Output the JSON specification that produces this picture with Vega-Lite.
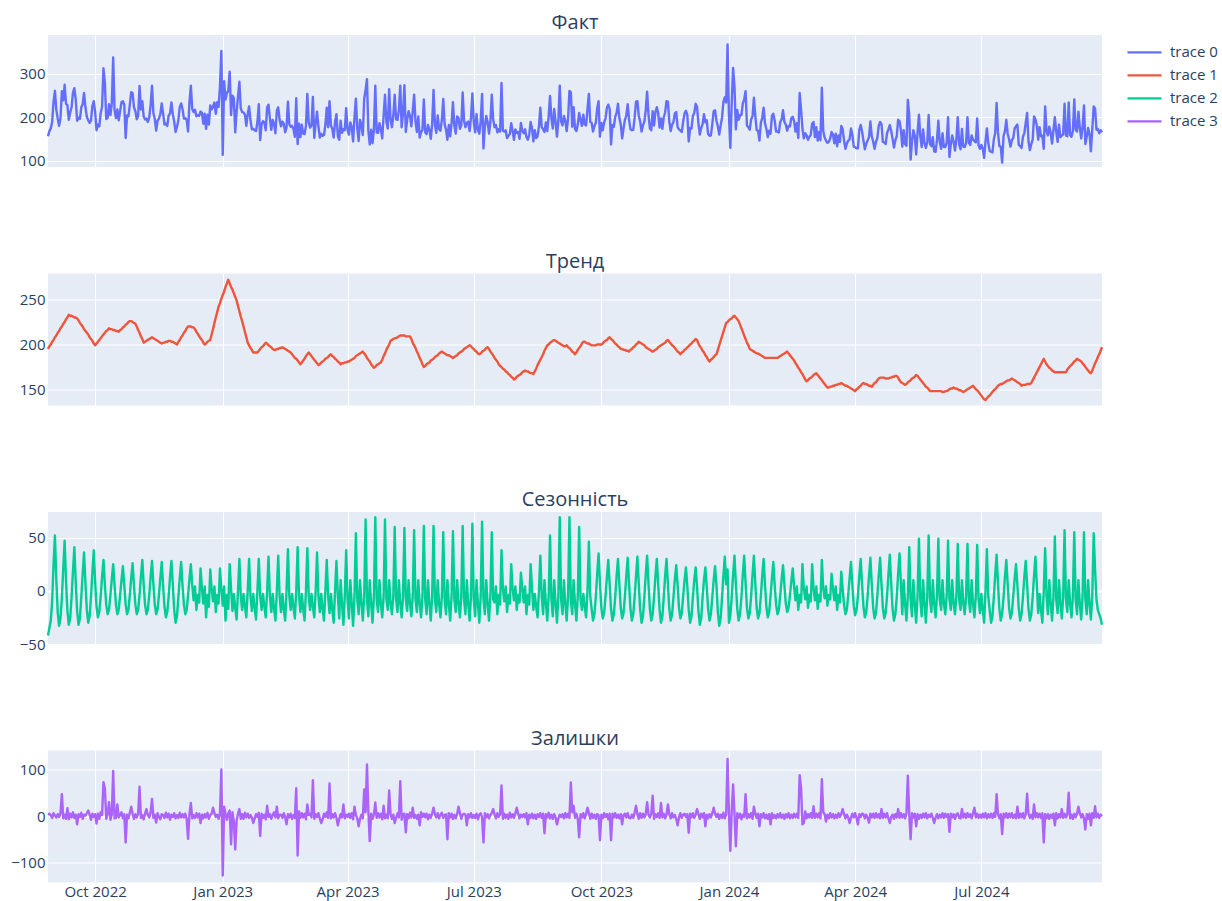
{
  "$schema": "https://vega.github.io/schema/vega-lite/v6.json",
  "background": "white",
  "padding": {"left": 10, "top": 13, "right": 4, "bottom": 2},
  "bounds": "flush",
  "config": {
    "font": "Open Sans",
    "view": {"fill": "#E5ECF6", "stroke": null},
    "axis": {
      "grid": true,
      "gridColor": "white",
      "gridWidth": 1.2,
      "domain": false,
      "ticks": false,
      "tickSize": 0,
      "labelColor": "#2a3f5f",
      "labelFontSize": 15,
      "labelFont": "Open Sans",
      "title": null
    },
    "title": {"fontSize": 20, "fontWeight": "normal", "color": "#2a3f5f", "font": "Open Sans", "offset": 2, "anchor": "middle"},
    "line": {"strokeWidth": 2.4, "strokeJoin": "round"}
  },
  "datasets": {
    "dec": [
{"d":"2022-08-28","t":195,"s":-42,"r":3,"f":156},
{"d":"2022-08-29","t":198,"s":-35,"r":5,"f":168},
{"d":"2022-08-30","t":200,"s":-28,"r":2,"f":174},
{"d":"2022-08-31","t":203,"s":-10,"r":-4,"f":189},
{"d":"2022-09-01","t":205,"s":25,"r":6,"f":236},
{"d":"2022-09-02","t":208,"s":52,"r":1,"f":261},
{"d":"2022-09-03","t":210,"s":10,"r":-3,"f":217},
{"d":"2022-09-04","t":213,"s":-20,"r":4,"f":197},
{"d":"2022-09-05","t":215,"s":-33,"r":-2,"f":180},
{"d":"2022-09-06","t":218,"s":-26,"r":6,"f":198},
{"d":"2022-09-07","t":220,"s":-7,"r":47,"f":260},
{"d":"2022-09-08","t":223,"s":21,"r":-5,"f":239},
{"d":"2022-09-09","t":225,"s":47,"r":3,"f":275},
{"d":"2022-09-10","t":228,"s":9,"r":-6,"f":231},
{"d":"2022-09-11","t":230,"s":-19,"r":17,"f":228},
{"d":"2022-09-12","t":233,"s":-32,"r":-7,"f":194},
{"d":"2022-09-13","t":232,"s":-26,"r":5,"f":211},
{"d":"2022-09-14","t":232,"s":-6,"r":-3,"f":223},
{"d":"2022-09-15","t":231,"s":18,"r":8,"f":257},
{"d":"2022-09-16","t":230,"s":41,"r":-4,"f":267},
{"d":"2022-09-17","t":230,"s":8,"r":3,"f":241},
{"d":"2022-09-18","t":229,"s":-19,"r":-18,"f":192},
{"d":"2022-09-19","t":227,"s":-32,"r":4,"f":199},
{"d":"2022-09-20","t":224,"s":-26,"r":-2,"f":196},
{"d":"2022-09-21","t":222,"s":-6,"r":7,"f":223},
{"d":"2022-09-22","t":220,"s":16,"r":-6,"f":230},
{"d":"2022-09-23","t":217,"s":36,"r":3,"f":256},
{"d":"2022-09-24","t":215,"s":7,"r":1,"f":223},
{"d":"2022-09-25","t":213,"s":-18,"r":6,"f":201},
{"d":"2022-09-26","t":211,"s":-30,"r":12,"f":193},
{"d":"2022-09-27","t":208,"s":-24,"r":3,"f":187},
{"d":"2022-09-28","t":206,"s":-6,"r":-8,"f":192},
{"d":"2022-09-29","t":204,"s":17,"r":5,"f":226},
{"d":"2022-09-30","t":201,"s":38,"r":-2,"f":237},
{"d":"2022-10-01","t":199,"s":8,"r":4,"f":211},
{"d":"2022-10-02","t":201,"s":-15,"r":-16,"f":170},
{"d":"2022-10-03","t":203,"s":-25,"r":5,"f":183},
{"d":"2022-10-04","t":205,"s":-20,"r":-6,"f":179},
{"d":"2022-10-05","t":207,"s":-5,"r":8,"f":210},
{"d":"2022-10-06","t":209,"s":13,"r":2,"f":224},
{"d":"2022-10-07","t":211,"s":29,"r":73,"f":313},
{"d":"2022-10-08","t":213,"s":6,"r":60,"f":279},
{"d":"2022-10-09","t":215,"s":-13,"r":-6,"f":196},
{"d":"2022-10-10","t":216,"s":-22,"r":4,"f":198},
{"d":"2022-10-11","t":218,"s":-18,"r":30,"f":230},
{"d":"2022-10-12","t":217,"s":-4,"r":-8,"f":205},
{"d":"2022-10-13","t":217,"s":11,"r":3,"f":231},
{"d":"2022-10-14","t":216,"s":25,"r":97,"f":338},
{"d":"2022-10-15","t":216,"s":5,"r":-5,"f":216},
{"d":"2022-10-16","t":215,"s":-13,"r":-4,"f":198},
{"d":"2022-10-17","t":215,"s":-22,"r":25,"f":218},
{"d":"2022-10-18","t":214,"s":-18,"r":-3,"f":193},
{"d":"2022-10-19","t":216,"s":-4,"r":2,"f":214},
{"d":"2022-10-20","t":217,"s":10,"r":8,"f":235},
{"d":"2022-10-21","t":219,"s":23,"r":-5,"f":237},
{"d":"2022-10-22","t":220,"s":5,"r":4,"f":229},
{"d":"2022-10-23","t":222,"s":-13,"r":-57,"f":152},
{"d":"2022-10-24","t":223,"s":-22,"r":3,"f":204},
{"d":"2022-10-25","t":225,"s":-18,"r":-5,"f":202},
{"d":"2022-10-26","t":226,"s":-4,"r":7,"f":229},
{"d":"2022-10-27","t":226,"s":12,"r":20,"f":258},
{"d":"2022-10-28","t":225,"s":26,"r":5,"f":256},
{"d":"2022-10-29","t":224,"s":5,"r":-6,"f":223},
{"d":"2022-10-30","t":223,"s":-13,"r":4,"f":214},
{"d":"2022-10-31","t":220,"s":-22,"r":-3,"f":195},
{"d":"2022-11-01","t":216,"s":-18,"r":5,"f":203},
{"d":"2022-11-02","t":213,"s":-4,"r":63,"f":272},
{"d":"2022-11-03","t":209,"s":13,"r":-4,"f":218},
{"d":"2022-11-04","t":206,"s":29,"r":2,"f":237},
{"d":"2022-11-05","t":202,"s":6,"r":-7,"f":201},
{"d":"2022-11-06","t":203,"s":-13,"r":5,"f":195},
{"d":"2022-11-07","t":204,"s":-22,"r":15,"f":197},
{"d":"2022-11-08","t":205,"s":-18,"r":2,"f":189},
{"d":"2022-11-09","t":206,"s":-4,"r":-3,"f":199},
{"d":"2022-11-10","t":207,"s":13,"r":8,"f":228},
{"d":"2022-11-11","t":208,"s":28,"r":37,"f":273},
{"d":"2022-11-12","t":207,"s":6,"r":-4,"f":209},
{"d":"2022-11-13","t":206,"s":-13,"r":3,"f":196},
{"d":"2022-11-14","t":205,"s":-22,"r":-14,"f":169},
{"d":"2022-11-15","t":204,"s":-18,"r":6,"f":192},
{"d":"2022-11-16","t":203,"s":-4,"r":-2,"f":197},
{"d":"2022-11-17","t":202,"s":12,"r":-7,"f":207},
{"d":"2022-11-18","t":201,"s":27,"r":4,"f":232},
{"d":"2022-11-19","t":202,"s":5,"r":2,"f":209},
{"d":"2022-11-20","t":202,"s":-15,"r":-4,"f":183},
{"d":"2022-11-21","t":203,"s":-25,"r":7,"f":185},
{"d":"2022-11-22","t":203,"s":-20,"r":-3,"f":180},
{"d":"2022-11-23","t":204,"s":-5,"r":5,"f":204},
{"d":"2022-11-24","t":204,"s":13,"r":-8,"f":209},
{"d":"2022-11-25","t":203,"s":28,"r":3,"f":234},
{"d":"2022-11-26","t":203,"s":6,"r":-2,"f":207},
{"d":"2022-11-27","t":202,"s":-18,"r":6,"f":190},
{"d":"2022-11-28","t":201,"s":-30,"r":-5,"f":166},
{"d":"2022-11-29","t":200,"s":-24,"r":2,"f":178},
{"d":"2022-11-30","t":203,"s":-6,"r":-4,"f":193},
{"d":"2022-12-01","t":205,"s":12,"r":7,"f":224},
{"d":"2022-12-02","t":208,"s":27,"r":-3,"f":232},
{"d":"2022-12-03","t":210,"s":5,"r":4,"f":219},
{"d":"2022-12-04","t":213,"s":-13,"r":-3,"f":197},
{"d":"2022-12-05","t":215,"s":-22,"r":5,"f":198},
{"d":"2022-12-06","t":218,"s":-18,"r":-6,"f":194},
{"d":"2022-12-07","t":220,"s":-4,"r":-49,"f":167},
{"d":"2022-12-08","t":220,"s":11,"r":4,"f":235},
{"d":"2022-12-09","t":220,"s":25,"r":28,"f":273},
{"d":"2022-12-10","t":219,"s":5,"r":-5,"f":219},
{"d":"2022-12-11","t":219,"s":-9,"r":2,"f":212},
{"d":"2022-12-12","t":217,"s":4,"r":-4,"f":217},
{"d":"2022-12-13","t":214,"s":-18,"r":6,"f":202},
{"d":"2022-12-14","t":212,"s":-4,"r":-3,"f":205},
{"d":"2022-12-15","t":209,"s":-11,"r":5,"f":203},
{"d":"2022-12-16","t":207,"s":21,"r":-15,"f":213},
{"d":"2022-12-17","t":205,"s":2,"r":3,"f":210},
{"d":"2022-12-18","t":202,"s":-12,"r":-5,"f":185},
{"d":"2022-12-19","t":200,"s":4,"r":4,"f":208},
{"d":"2022-12-20","t":201,"s":-25,"r":-3,"f":173},
{"d":"2022-12-21","t":203,"s":-4,"r":7,"f":206},
{"d":"2022-12-22","t":204,"s":-15,"r":-6,"f":183},
{"d":"2022-12-23","t":205,"s":20,"r":2,"f":227},
{"d":"2022-12-24","t":211,"s":2,"r":5,"f":218},
{"d":"2022-12-25","t":217,"s":-10,"r":18,"f":225},
{"d":"2022-12-26","t":224,"s":4,"r":6,"f":234},
{"d":"2022-12-27","t":230,"s":-20,"r":-2,"f":208},
{"d":"2022-12-28","t":236,"s":-4,"r":3,"f":235},
{"d":"2022-12-29","t":242,"s":-12,"r":-6,"f":224},
{"d":"2022-12-30","t":246,"s":21,"r":4,"f":271},
{"d":"2022-12-31","t":251,"s":2,"r":100,"f":353},
{"d":"2023-01-01","t":255,"s":-14,"r":-128,"f":113},
{"d":"2023-01-02","t":259,"s":4,"r":20,"f":283},
{"d":"2023-01-03","t":264,"s":-28,"r":5,"f":241},
{"d":"2023-01-04","t":268,"s":-4,"r":-8,"f":256},
{"d":"2023-01-05","t":272,"s":-17,"r":6,"f":261},
{"d":"2023-01-06","t":268,"s":25,"r":12,"f":305},
{"d":"2023-01-07","t":264,"s":2,"r":-61,"f":205},
{"d":"2023-01-08","t":261,"s":-19,"r":8,"f":250},
{"d":"2023-01-09","t":257,"s":-3,"r":-10,"f":244},
{"d":"2023-01-10","t":253,"s":-16,"r":-72,"f":165},
{"d":"2023-01-11","t":249,"s":-27,"r":-10,"f":212},
{"d":"2023-01-12","t":243,"s":0,"r":5,"f":248},
{"d":"2023-01-13","t":237,"s":30,"r":15,"f":282},
{"d":"2023-01-14","t":231,"s":-5,"r":-6,"f":220},
{"d":"2023-01-15","t":226,"s":-18,"r":4,"f":212},
{"d":"2023-01-16","t":220,"s":-3,"r":-6,"f":211},
{"d":"2023-01-17","t":214,"s":-15,"r":7,"f":206},
{"d":"2023-01-18","t":208,"s":-25,"r":-3,"f":180},
{"d":"2023-01-19","t":202,"s":0,"r":5,"f":207},
{"d":"2023-01-20","t":199,"s":30,"r":-4,"f":225},
{"d":"2023-01-21","t":196,"s":-5,"r":2,"f":193},
{"d":"2023-01-22","t":194,"s":-19,"r":-3,"f":172},
{"d":"2023-01-23","t":191,"s":-3,"r":-15,"f":173},
{"d":"2023-01-24","t":191,"s":-16,"r":-5,"f":170},
{"d":"2023-01-25","t":191,"s":-27,"r":4,"f":168},
{"d":"2023-01-26","t":191,"s":0,"r":-2,"f":189},
{"d":"2023-01-27","t":193,"s":30,"r":7,"f":230},
{"d":"2023-01-28","t":195,"s":-5,"r":-43,"f":147},
{"d":"2023-01-29","t":197,"s":-18,"r":5,"f":184},
{"d":"2023-01-30","t":198,"s":-3,"r":-4,"f":191},
{"d":"2023-01-31","t":200,"s":-15,"r":3,"f":188},
{"d":"2023-02-01","t":202,"s":-25,"r":-7,"f":170},
{"d":"2023-02-02","t":201,"s":0,"r":22,"f":223},
{"d":"2023-02-03","t":199,"s":32,"r":-2,"f":229},
{"d":"2023-02-04","t":198,"s":-5,"r":4,"f":197},
{"d":"2023-02-05","t":197,"s":-20,"r":-6,"f":171},
{"d":"2023-02-06","t":195,"s":-3,"r":2,"f":194},
{"d":"2023-02-07","t":194,"s":-17,"r":8,"f":185},
{"d":"2023-02-08","t":194,"s":-28,"r":-3,"f":163},
{"d":"2023-02-09","t":195,"s":0,"r":20,"f":215},
{"d":"2023-02-10","t":195,"s":33,"r":-5,"f":223},
{"d":"2023-02-11","t":196,"s":-5,"r":3,"f":194},
{"d":"2023-02-12","t":196,"s":-20,"r":3,"f":179},
{"d":"2023-02-13","t":197,"s":-3,"r":-4,"f":190},
{"d":"2023-02-14","t":196,"s":-17,"r":6,"f":185},
{"d":"2023-02-15","t":195,"s":-28,"r":-2,"f":165},
{"d":"2023-02-16","t":194,"s":0,"r":-18,"f":176},
{"d":"2023-02-17","t":193,"s":39,"r":4,"f":236},
{"d":"2023-02-18","t":192,"s":-5,"r":-3,"f":184},
{"d":"2023-02-19","t":191,"s":-18,"r":5,"f":178},
{"d":"2023-02-20","t":189,"s":-3,"r":-6,"f":180},
{"d":"2023-02-21","t":187,"s":-16,"r":2,"f":173},
{"d":"2023-02-22","t":185,"s":-26,"r":-4,"f":155},
{"d":"2023-02-23","t":184,"s":0,"r":60,"f":244},
{"d":"2023-02-24","t":182,"s":41,"r":-85,"f":138},
{"d":"2023-02-25","t":180,"s":-5,"r":10,"f":185},
{"d":"2023-02-26","t":178,"s":-20,"r":-4,"f":154},
{"d":"2023-02-27","t":180,"s":-3,"r":6,"f":183},
{"d":"2023-02-28","t":182,"s":-17,"r":-3,"f":162},
{"d":"2023-03-01","t":184,"s":-28,"r":5,"f":161},
{"d":"2023-03-02","t":187,"s":0,"r":-7,"f":180},
{"d":"2023-03-03","t":189,"s":40,"r":25,"f":254},
{"d":"2023-03-04","t":191,"s":-5,"r":2,"f":188},
{"d":"2023-03-05","t":189,"s":-18,"r":5,"f":176},
{"d":"2023-03-06","t":187,"s":-3,"r":-3,"f":181},
{"d":"2023-03-07","t":185,"s":-15,"r":77,"f":247},
{"d":"2023-03-08","t":183,"s":-25,"r":-6,"f":152},
{"d":"2023-03-09","t":181,"s":0,"r":4,"f":185},
{"d":"2023-03-10","t":179,"s":36,"r":-2,"f":213},
{"d":"2023-03-11","t":177,"s":-5,"r":6,"f":178},
{"d":"2023-03-12","t":178,"s":-20,"r":-5,"f":153},
{"d":"2023-03-13","t":180,"s":-3,"r":-15,"f":162},
{"d":"2023-03-14","t":181,"s":-17,"r":-7,"f":157},
{"d":"2023-03-15","t":182,"s":-28,"r":5,"f":159},
{"d":"2023-03-16","t":184,"s":0,"r":-2,"f":182},
{"d":"2023-03-17","t":185,"s":29,"r":8,"f":222},
{"d":"2023-03-18","t":186,"s":-5,"r":-4,"f":177},
{"d":"2023-03-19","t":188,"s":-21,"r":70,"f":237},
{"d":"2023-03-20","t":189,"s":-3,"r":-5,"f":181},
{"d":"2023-03-21","t":187,"s":-18,"r":4,"f":173},
{"d":"2023-03-22","t":186,"s":-30,"r":-3,"f":153},
{"d":"2023-03-23","t":184,"s":0,"r":6,"f":190},
{"d":"2023-03-24","t":183,"s":28,"r":-4,"f":207},
{"d":"2023-03-25","t":181,"s":-5,"r":-20,"f":156},
{"d":"2023-03-26","t":180,"s":-26,"r":-6,"f":148},
{"d":"2023-03-27","t":178,"s":10,"r":4,"f":192},
{"d":"2023-03-28","t":179,"s":-12,"r":-3,"f":164},
{"d":"2023-03-29","t":179,"s":-32,"r":25,"f":172},
{"d":"2023-03-30","t":180,"s":-5,"r":-5,"f":170},
{"d":"2023-03-31","t":180,"s":38,"r":3,"f":221},
{"d":"2023-04-01","t":181,"s":-8,"r":-2,"f":171},
{"d":"2023-04-02","t":181,"s":-26,"r":5,"f":160},
{"d":"2023-04-03","t":182,"s":10,"r":-4,"f":188},
{"d":"2023-04-04","t":183,"s":-12,"r":6,"f":177},
{"d":"2023-04-05","t":184,"s":-33,"r":-7,"f":144},
{"d":"2023-04-06","t":185,"s":-5,"r":20,"f":200},
{"d":"2023-04-07","t":187,"s":54,"r":2,"f":243},
{"d":"2023-04-08","t":188,"s":-8,"r":-5,"f":175},
{"d":"2023-04-09","t":189,"s":-22,"r":-22,"f":145},
{"d":"2023-04-10","t":190,"s":10,"r":-6,"f":194},
{"d":"2023-04-11","t":191,"s":-12,"r":3,"f":182},
{"d":"2023-04-12","t":192,"s":-28,"r":-5,"f":159},
{"d":"2023-04-13","t":190,"s":-5,"r":57,"f":242},
{"d":"2023-04-14","t":188,"s":67,"r":8,"f":263},
{"d":"2023-04-15","t":185,"s":-8,"r":111,"f":288},
{"d":"2023-04-16","t":183,"s":-24,"r":10,"f":169},
{"d":"2023-04-17","t":181,"s":10,"r":-54,"f":137},
{"d":"2023-04-18","t":178,"s":-12,"r":5,"f":171},
{"d":"2023-04-19","t":176,"s":-30,"r":-6,"f":140},
{"d":"2023-04-20","t":174,"s":-5,"r":3,"f":172},
{"d":"2023-04-21","t":175,"s":69,"r":29,"f":273},
{"d":"2023-04-22","t":177,"s":-8,"r":-4,"f":165},
{"d":"2023-04-23","t":178,"s":-20,"r":6,"f":164},
{"d":"2023-04-24","t":179,"s":10,"r":-3,"f":186},
{"d":"2023-04-25","t":180,"s":-12,"r":5,"f":173},
{"d":"2023-04-26","t":183,"s":-25,"r":-7,"f":151},
{"d":"2023-04-27","t":187,"s":-5,"r":22,"f":204},
{"d":"2023-04-28","t":190,"s":67,"r":-5,"f":252},
{"d":"2023-04-29","t":194,"s":-8,"r":3,"f":189},
{"d":"2023-04-30","t":197,"s":-18,"r":-5,"f":174},
{"d":"2023-05-01","t":200,"s":10,"r":55,"f":265},
{"d":"2023-05-02","t":204,"s":-12,"r":4,"f":196},
{"d":"2023-05-03","t":205,"s":-22,"r":-6,"f":177},
{"d":"2023-05-04","t":206,"s":-5,"r":3,"f":204},
{"d":"2023-05-05","t":207,"s":60,"r":-15,"f":252},
{"d":"2023-05-06","t":207,"s":-8,"r":-4,"f":195},
{"d":"2023-05-07","t":208,"s":-20,"r":6,"f":194},
{"d":"2023-05-08","t":209,"s":10,"r":-3,"f":216},
{"d":"2023-05-09","t":210,"s":-12,"r":75,"f":273},
{"d":"2023-05-10","t":210,"s":-25,"r":-8,"f":177},
{"d":"2023-05-11","t":210,"s":-5,"r":4,"f":209},
{"d":"2023-05-12","t":210,"s":59,"r":5,"f":274},
{"d":"2023-05-13","t":209,"s":-8,"r":-35,"f":166},
{"d":"2023-05-14","t":209,"s":-19,"r":4,"f":194},
{"d":"2023-05-15","t":209,"s":10,"r":-5,"f":214},
{"d":"2023-05-16","t":209,"s":-12,"r":7,"f":204},
{"d":"2023-05-17","t":206,"s":-24,"r":-3,"f":179},
{"d":"2023-05-18","t":202,"s":-5,"r":18,"f":215},
{"d":"2023-05-19","t":199,"s":57,"r":-4,"f":252},
{"d":"2023-05-20","t":196,"s":-8,"r":2,"f":190},
{"d":"2023-05-21","t":192,"s":-20,"r":-6,"f":166},
{"d":"2023-05-22","t":189,"s":10,"r":3,"f":202},
{"d":"2023-05-23","t":185,"s":-12,"r":-20,"f":153},
{"d":"2023-05-24","t":182,"s":-25,"r":8,"f":165},
{"d":"2023-05-25","t":178,"s":-5,"r":-2,"f":171},
{"d":"2023-05-26","t":175,"s":61,"r":5,"f":241},
{"d":"2023-05-27","t":176,"s":-8,"r":-3,"f":165},
{"d":"2023-05-28","t":178,"s":-22,"r":5,"f":161},
{"d":"2023-05-29","t":179,"s":10,"r":-7,"f":182},
{"d":"2023-05-30","t":180,"s":-12,"r":3,"f":171},
{"d":"2023-05-31","t":182,"s":-28,"r":-4,"f":150},
{"d":"2023-06-01","t":183,"s":-5,"r":6,"f":184},
{"d":"2023-06-02","t":184,"s":61,"r":18,"f":263},
{"d":"2023-06-03","t":186,"s":-8,"r":4,"f":182},
{"d":"2023-06-04","t":187,"s":-20,"r":-3,"f":164},
{"d":"2023-06-05","t":188,"s":10,"r":6,"f":204},
{"d":"2023-06-06","t":190,"s":-12,"r":-5,"f":173},
{"d":"2023-06-07","t":191,"s":-25,"r":3,"f":169},
{"d":"2023-06-08","t":192,"s":-5,"r":7,"f":194},
{"d":"2023-06-09","t":191,"s":55,"r":-4,"f":242},
{"d":"2023-06-10","t":190,"s":-8,"r":2,"f":184},
{"d":"2023-06-11","t":189,"s":-22,"r":4,"f":171},
{"d":"2023-06-12","t":188,"s":10,"r":-50,"f":148},
{"d":"2023-06-13","t":188,"s":-12,"r":6,"f":182},
{"d":"2023-06-14","t":187,"s":-28,"r":-3,"f":156},
{"d":"2023-06-15","t":186,"s":-5,"r":5,"f":186},
{"d":"2023-06-16","t":185,"s":56,"r":-6,"f":235},
{"d":"2023-06-17","t":186,"s":-8,"r":3,"f":181},
{"d":"2023-06-18","t":187,"s":-20,"r":-5,"f":162},
{"d":"2023-06-19","t":188,"s":10,"r":4,"f":202},
{"d":"2023-06-20","t":190,"s":-12,"r":20,"f":198},
{"d":"2023-06-21","t":191,"s":-25,"r":7,"f":173},
{"d":"2023-06-22","t":192,"s":-5,"r":-6,"f":181},
{"d":"2023-06-23","t":193,"s":61,"r":3,"f":257},
{"d":"2023-06-24","t":195,"s":-8,"r":5,"f":192},
{"d":"2023-06-25","t":196,"s":-22,"r":3,"f":177},
{"d":"2023-06-26","t":197,"s":10,"r":-20,"f":187},
{"d":"2023-06-27","t":198,"s":-12,"r":4,"f":190},
{"d":"2023-06-28","t":199,"s":-28,"r":-3,"f":168},
{"d":"2023-06-29","t":198,"s":-5,"r":6,"f":199},
{"d":"2023-06-30","t":196,"s":63,"r":-4,"f":255},
{"d":"2023-07-01","t":195,"s":-8,"r":2,"f":189},
{"d":"2023-07-02","t":193,"s":-24,"r":-4,"f":165},
{"d":"2023-07-03","t":192,"s":10,"r":5,"f":207},
{"d":"2023-07-04","t":190,"s":-12,"r":-7,"f":171},
{"d":"2023-07-05","t":189,"s":-30,"r":3,"f":162},
{"d":"2023-07-06","t":190,"s":-5,"r":6,"f":191},
{"d":"2023-07-07","t":192,"s":65,"r":-3,"f":254},
{"d":"2023-07-08","t":193,"s":-8,"r":-57,"f":128},
{"d":"2023-07-09","t":194,"s":-22,"r":6,"f":178},
{"d":"2023-07-10","t":196,"s":10,"r":-3,"f":203},
{"d":"2023-07-11","t":197,"s":-12,"r":4,"f":189},
{"d":"2023-07-12","t":195,"s":-28,"r":-5,"f":162},
{"d":"2023-07-13","t":192,"s":-5,"r":2,"f":189},
{"d":"2023-07-14","t":190,"s":55,"r":7,"f":252},
{"d":"2023-07-15","t":188,"s":-8,"r":15,"f":195},
{"d":"2023-07-16","t":185,"s":-11,"r":3,"f":177},
{"d":"2023-07-17","t":183,"s":4,"r":-5,"f":182},
{"d":"2023-07-18","t":181,"s":-22,"r":6,"f":165},
{"d":"2023-07-19","t":178,"s":-4,"r":-2,"f":172},
{"d":"2023-07-20","t":176,"s":-13,"r":4,"f":167},
{"d":"2023-07-21","t":175,"s":38,"r":66,"f":279},
{"d":"2023-07-22","t":173,"s":2,"r":-6,"f":169},
{"d":"2023-07-23","t":172,"s":-10,"r":5,"f":167},
{"d":"2023-07-24","t":170,"s":4,"r":-4,"f":170},
{"d":"2023-07-25","t":169,"s":-20,"r":3,"f":152},
{"d":"2023-07-26","t":167,"s":-4,"r":-6,"f":157},
{"d":"2023-07-27","t":166,"s":-12,"r":7,"f":161},
{"d":"2023-07-28","t":164,"s":25,"r":-3,"f":186},
{"d":"2023-07-29","t":163,"s":2,"r":4,"f":169},
{"d":"2023-07-30","t":161,"s":-9,"r":-4,"f":148},
{"d":"2023-07-31","t":162,"s":4,"r":6,"f":172},
{"d":"2023-08-01","t":164,"s":-18,"r":18,"f":164},
{"d":"2023-08-02","t":165,"s":-4,"r":5,"f":166},
{"d":"2023-08-03","t":166,"s":-11,"r":-5,"f":150},
{"d":"2023-08-04","t":167,"s":17,"r":3,"f":187},
{"d":"2023-08-05","t":169,"s":2,"r":-2,"f":169},
{"d":"2023-08-06","t":170,"s":-11,"r":4,"f":163},
{"d":"2023-08-07","t":171,"s":4,"r":-3,"f":172},
{"d":"2023-08-08","t":170,"s":-22,"r":6,"f":154},
{"d":"2023-08-09","t":170,"s":-4,"r":-18,"f":148},
{"d":"2023-08-10","t":169,"s":-13,"r":3,"f":159},
{"d":"2023-08-11","t":168,"s":25,"r":-4,"f":189},
{"d":"2023-08-12","t":168,"s":2,"r":5,"f":175},
{"d":"2023-08-13","t":167,"s":-18,"r":-5,"f":144},
{"d":"2023-08-14","t":170,"s":-3,"r":3,"f":170},
{"d":"2023-08-15","t":173,"s":-15,"r":-6,"f":152},
{"d":"2023-08-16","t":177,"s":-25,"r":4,"f":156},
{"d":"2023-08-17","t":180,"s":0,"r":-2,"f":178},
{"d":"2023-08-18","t":183,"s":33,"r":6,"f":222},
{"d":"2023-08-19","t":186,"s":-5,"r":-4,"f":177},
{"d":"2023-08-20","t":189,"s":-22,"r":5,"f":172},
{"d":"2023-08-21","t":193,"s":10,"r":-37,"f":166},
{"d":"2023-08-22","t":196,"s":-12,"r":4,"f":188},
{"d":"2023-08-23","t":199,"s":-28,"r":-3,"f":168},
{"d":"2023-08-24","t":200,"s":-5,"r":7,"f":202},
{"d":"2023-08-25","t":202,"s":52,"r":-5,"f":249},
{"d":"2023-08-26","t":203,"s":-8,"r":3,"f":198},
{"d":"2023-08-27","t":204,"s":-24,"r":-6,"f":174},
{"d":"2023-08-28","t":205,"s":10,"r":4,"f":219},
{"d":"2023-08-29","t":204,"s":-12,"r":-3,"f":189},
{"d":"2023-08-30","t":203,"s":-30,"r":-18,"f":155},
{"d":"2023-08-31","t":202,"s":-5,"r":-5,"f":192},
{"d":"2023-09-01","t":201,"s":69,"r":3,"f":273},
{"d":"2023-09-02","t":200,"s":-8,"r":-2,"f":190},
{"d":"2023-09-03","t":199,"s":-22,"r":4,"f":181},
{"d":"2023-09-04","t":198,"s":10,"r":-5,"f":203},
{"d":"2023-09-05","t":198,"s":-12,"r":6,"f":192},
{"d":"2023-09-06","t":199,"s":-28,"r":-3,"f":168},
{"d":"2023-09-07","t":197,"s":-5,"r":5,"f":197},
{"d":"2023-09-08","t":196,"s":69,"r":-4,"f":261},
{"d":"2023-09-09","t":194,"s":-8,"r":72,"f":258},
{"d":"2023-09-10","t":192,"s":-22,"r":8,"f":178},
{"d":"2023-09-11","t":191,"s":10,"r":22,"f":223},
{"d":"2023-09-12","t":189,"s":-12,"r":-4,"f":173},
{"d":"2023-09-13","t":191,"s":-28,"r":5,"f":168},
{"d":"2023-09-14","t":194,"s":-5,"r":-6,"f":183},
{"d":"2023-09-15","t":196,"s":60,"r":-46,"f":210},
{"d":"2023-09-16","t":198,"s":-8,"r":4,"f":194},
{"d":"2023-09-17","t":201,"s":-18,"r":-3,"f":180},
{"d":"2023-09-18","t":203,"s":-3,"r":6,"f":206},
{"d":"2023-09-19","t":203,"s":-15,"r":-5,"f":183},
{"d":"2023-09-20","t":202,"s":-25,"r":4,"f":181},
{"d":"2023-09-21","t":201,"s":0,"r":18,"f":219},
{"d":"2023-09-22","t":201,"s":46,"r":7,"f":254},
{"d":"2023-09-23","t":200,"s":-5,"r":-6,"f":189},
{"d":"2023-09-24","t":199,"s":-17,"r":5,"f":187},
{"d":"2023-09-25","t":199,"s":-28,"r":-4,"f":167},
{"d":"2023-09-26","t":199,"s":-22,"r":3,"f":180},
{"d":"2023-09-27","t":199,"s":-6,"r":-6,"f":187},
{"d":"2023-09-28","t":200,"s":16,"r":4,"f":220},
{"d":"2023-09-29","t":200,"s":35,"r":2,"f":237},
{"d":"2023-09-30","t":200,"s":7,"r":-52,"f":155},
{"d":"2023-10-01","t":200,"s":-16,"r":3,"f":187},
{"d":"2023-10-02","t":201,"s":-26,"r":-5,"f":170},
{"d":"2023-10-03","t":203,"s":-21,"r":6,"f":188},
{"d":"2023-10-04","t":204,"s":-5,"r":-2,"f":197},
{"d":"2023-10-05","t":205,"s":13,"r":4,"f":222},
{"d":"2023-10-06","t":207,"s":29,"r":-7,"f":229},
{"d":"2023-10-07","t":208,"s":6,"r":5,"f":219},
{"d":"2023-10-08","t":206,"s":-17,"r":-52,"f":137},
{"d":"2023-10-09","t":205,"s":-28,"r":5,"f":182},
{"d":"2023-10-10","t":203,"s":-22,"r":-3,"f":178},
{"d":"2023-10-11","t":201,"s":-6,"r":6,"f":201},
{"d":"2023-10-12","t":200,"s":14,"r":-4,"f":210},
{"d":"2023-10-13","t":198,"s":30,"r":3,"f":231},
{"d":"2023-10-14","t":197,"s":6,"r":-5,"f":198},
{"d":"2023-10-15","t":195,"s":-16,"r":4,"f":183},
{"d":"2023-10-16","t":195,"s":-26,"r":-18,"f":151},
{"d":"2023-10-17","t":194,"s":-21,"r":2,"f":175},
{"d":"2023-10-18","t":194,"s":-5,"r":5,"f":194},
{"d":"2023-10-19","t":193,"s":14,"r":-3,"f":204},
{"d":"2023-10-20","t":193,"s":31,"r":6,"f":230},
{"d":"2023-10-21","t":192,"s":6,"r":-4,"f":194},
{"d":"2023-10-22","t":194,"s":-17,"r":-5,"f":172},
{"d":"2023-10-23","t":195,"s":-28,"r":3,"f":170},
{"d":"2023-10-24","t":197,"s":-22,"r":-4,"f":171},
{"d":"2023-10-25","t":198,"s":-6,"r":7,"f":199},
{"d":"2023-10-26","t":200,"s":14,"r":22,"f":236},
{"d":"2023-10-27","t":201,"s":32,"r":4,"f":237},
{"d":"2023-10-28","t":203,"s":6,"r":-6,"f":203},
{"d":"2023-10-29","t":202,"s":-18,"r":6,"f":190},
{"d":"2023-10-30","t":201,"s":-30,"r":-4,"f":167},
{"d":"2023-10-31","t":200,"s":-24,"r":5,"f":181},
{"d":"2023-11-01","t":199,"s":-6,"r":-3,"f":190},
{"d":"2023-11-02","t":197,"s":15,"r":4,"f":216},
{"d":"2023-11-03","t":196,"s":33,"r":30,"f":259},
{"d":"2023-11-04","t":195,"s":7,"r":3,"f":205},
{"d":"2023-11-05","t":194,"s":-17,"r":-3,"f":174},
{"d":"2023-11-06","t":193,"s":-28,"r":5,"f":170},
{"d":"2023-11-07","t":192,"s":-22,"r":44,"f":214},
{"d":"2023-11-08","t":193,"s":-6,"r":-6,"f":181},
{"d":"2023-11-09","t":194,"s":14,"r":4,"f":212},
{"d":"2023-11-10","t":195,"s":30,"r":-2,"f":223},
{"d":"2023-11-11","t":197,"s":6,"r":6,"f":209},
{"d":"2023-11-12","t":198,"s":-18,"r":-4,"f":176},
{"d":"2023-11-13","t":199,"s":-30,"r":28,"f":197},
{"d":"2023-11-14","t":200,"s":-24,"r":-3,"f":173},
{"d":"2023-11-15","t":201,"s":-6,"r":5,"f":200},
{"d":"2023-11-16","t":202,"s":14,"r":-5,"f":211},
{"d":"2023-11-17","t":204,"s":30,"r":3,"f":237},
{"d":"2023-11-18","t":205,"s":6,"r":25,"f":236},
{"d":"2023-11-19","t":203,"s":-17,"r":4,"f":190},
{"d":"2023-11-20","t":201,"s":-28,"r":-5,"f":168},
{"d":"2023-11-21","t":199,"s":-22,"r":6,"f":183},
{"d":"2023-11-22","t":198,"s":-6,"r":-3,"f":189},
{"d":"2023-11-23","t":196,"s":11,"r":2,"f":209},
{"d":"2023-11-24","t":194,"s":24,"r":-6,"f":212},
{"d":"2023-11-25","t":192,"s":5,"r":-20,"f":177},
{"d":"2023-11-26","t":191,"s":-16,"r":-3,"f":172},
{"d":"2023-11-27","t":189,"s":-26,"r":6,"f":169},
{"d":"2023-11-28","t":191,"s":-21,"r":-4,"f":166},
{"d":"2023-11-29","t":192,"s":-5,"r":3,"f":190},
{"d":"2023-11-30","t":194,"s":10,"r":5,"f":209},
{"d":"2023-12-01","t":195,"s":22,"r":-2,"f":215},
{"d":"2023-12-02","t":197,"s":4,"r":4,"f":205},
{"d":"2023-12-03","t":198,"s":-18,"r":-36,"f":144},
{"d":"2023-12-04","t":200,"s":-30,"r":5,"f":175},
{"d":"2023-12-05","t":201,"s":-24,"r":-3,"f":174},
{"d":"2023-12-06","t":203,"s":-6,"r":6,"f":203},
{"d":"2023-12-07","t":204,"s":10,"r":-4,"f":210},
{"d":"2023-12-08","t":206,"s":22,"r":3,"f":231},
{"d":"2023-12-09","t":205,"s":4,"r":15,"f":224},
{"d":"2023-12-10","t":201,"s":-19,"r":4,"f":186},
{"d":"2023-12-11","t":198,"s":-32,"r":-6,"f":160},
{"d":"2023-12-12","t":196,"s":-26,"r":5,"f":175},
{"d":"2023-12-13","t":193,"s":-6,"r":-3,"f":184},
{"d":"2023-12-14","t":191,"s":10,"r":6,"f":207},
{"d":"2023-12-15","t":188,"s":22,"r":-22,"f":188},
{"d":"2023-12-16","t":186,"s":4,"r":3,"f":193},
{"d":"2023-12-17","t":183,"s":-17,"r":-5,"f":161},
{"d":"2023-12-18","t":181,"s":-28,"r":4,"f":157},
{"d":"2023-12-19","t":183,"s":-22,"r":-3,"f":158},
{"d":"2023-12-20","t":184,"s":-6,"r":6,"f":184},
{"d":"2023-12-21","t":186,"s":10,"r":18,"f":214},
{"d":"2023-12-22","t":188,"s":23,"r":5,"f":216},
{"d":"2023-12-23","t":189,"s":5,"r":-2,"f":192},
{"d":"2023-12-24","t":194,"s":-20,"r":5,"f":179},
{"d":"2023-12-25","t":199,"s":-33,"r":-6,"f":160},
{"d":"2023-12-26","t":204,"s":-26,"r":3,"f":181},
{"d":"2023-12-27","t":209,"s":-7,"r":-4,"f":198},
{"d":"2023-12-28","t":214,"s":14,"r":7,"f":235},
{"d":"2023-12-29","t":219,"s":32,"r":-5,"f":246},
{"d":"2023-12-30","t":224,"s":6,"r":4,"f":234},
{"d":"2023-12-31","t":225,"s":20,"r":123,"f":368},
{"d":"2024-01-01","t":227,"s":-30,"r":8,"f":205},
{"d":"2024-01-02","t":228,"s":-24,"r":-75,"f":129},
{"d":"2024-01-03","t":229,"s":-6,"r":10,"f":233},
{"d":"2024-01-04","t":231,"s":15,"r":68,"f":314},
{"d":"2024-01-05","t":232,"s":33,"r":5,"f":270},
{"d":"2024-01-06","t":230,"s":7,"r":-65,"f":172},
{"d":"2024-01-07","t":228,"s":-17,"r":6,"f":217},
{"d":"2024-01-08","t":226,"s":-28,"r":-4,"f":194},
{"d":"2024-01-09","t":222,"s":-22,"r":5,"f":205},
{"d":"2024-01-10","t":218,"s":-6,"r":-7,"f":205},
{"d":"2024-01-11","t":214,"s":15,"r":3,"f":232},
{"d":"2024-01-12","t":210,"s":33,"r":-2,"f":241},
{"d":"2024-01-13","t":206,"s":7,"r":47,"f":260},
{"d":"2024-01-14","t":202,"s":-16,"r":-5,"f":181},
{"d":"2024-01-15","t":199,"s":-26,"r":4,"f":177},
{"d":"2024-01-16","t":195,"s":-21,"r":-3,"f":171},
{"d":"2024-01-17","t":194,"s":-5,"r":6,"f":195},
{"d":"2024-01-18","t":193,"s":15,"r":-6,"f":202},
{"d":"2024-01-19","t":192,"s":33,"r":20,"f":245},
{"d":"2024-01-20","t":191,"s":7,"r":5,"f":203},
{"d":"2024-01-21","t":190,"s":-16,"r":-4,"f":170},
{"d":"2024-01-22","t":190,"s":-26,"r":5,"f":169},
{"d":"2024-01-23","t":189,"s":-21,"r":-22,"f":146},
{"d":"2024-01-24","t":188,"s":-5,"r":4,"f":187},
{"d":"2024-01-25","t":187,"s":14,"r":-3,"f":198},
{"d":"2024-01-26","t":186,"s":30,"r":6,"f":222},
{"d":"2024-01-27","t":185,"s":6,"r":-5,"f":186},
{"d":"2024-01-28","t":185,"s":-15,"r":3,"f":173},
{"d":"2024-01-29","t":185,"s":-25,"r":-6,"f":154},
{"d":"2024-01-30","t":185,"s":-20,"r":4,"f":169},
{"d":"2024-01-31","t":185,"s":-5,"r":-18,"f":162},
{"d":"2024-02-01","t":185,"s":12,"r":6,"f":203},
{"d":"2024-02-02","t":185,"s":27,"r":-4,"f":208},
{"d":"2024-02-03","t":185,"s":5,"r":2,"f":192},
{"d":"2024-02-04","t":185,"s":-13,"r":-5,"f":167},
{"d":"2024-02-05","t":185,"s":-22,"r":4,"f":167},
{"d":"2024-02-06","t":186,"s":-18,"r":-3,"f":165},
{"d":"2024-02-07","t":187,"s":-4,"r":6,"f":189},
{"d":"2024-02-08","t":188,"s":11,"r":-4,"f":195},
{"d":"2024-02-09","t":189,"s":24,"r":3,"f":216},
{"d":"2024-02-10","t":190,"s":5,"r":-6,"f":189},
{"d":"2024-02-11","t":191,"s":-12,"r":4,"f":183},
{"d":"2024-02-12","t":192,"s":-20,"r":-3,"f":169},
{"d":"2024-02-13","t":190,"s":-16,"r":6,"f":180},
{"d":"2024-02-14","t":188,"s":-4,"r":-5,"f":179},
{"d":"2024-02-15","t":186,"s":9,"r":3,"f":198},
{"d":"2024-02-16","t":184,"s":21,"r":-4,"f":201},
{"d":"2024-02-17","t":182,"s":4,"r":5,"f":191},
{"d":"2024-02-18","t":179,"s":-9,"r":-3,"f":167},
{"d":"2024-02-19","t":177,"s":4,"r":5,"f":186},
{"d":"2024-02-20","t":174,"s":-18,"r":-4,"f":152},
{"d":"2024-02-21","t":172,"s":-4,"r":88,"f":256},
{"d":"2024-02-22","t":169,"s":-11,"r":60,"f":218},
{"d":"2024-02-23","t":167,"s":25,"r":-18,"f":174},
{"d":"2024-02-24","t":164,"s":2,"r":-15,"f":151},
{"d":"2024-02-25","t":161,"s":-8,"r":10,"f":163},
{"d":"2024-02-26","t":159,"s":4,"r":-5,"f":158},
{"d":"2024-02-27","t":160,"s":-16,"r":4,"f":148},
{"d":"2024-02-28","t":162,"s":-4,"r":-3,"f":155},
{"d":"2024-02-29","t":163,"s":-10,"r":6,"f":159},
{"d":"2024-03-01","t":164,"s":25,"r":-4,"f":185},
{"d":"2024-03-02","t":166,"s":2,"r":21,"f":189},
{"d":"2024-03-03","t":167,"s":-9,"r":-4,"f":154},
{"d":"2024-03-04","t":168,"s":4,"r":5,"f":177},
{"d":"2024-03-05","t":166,"s":-17,"r":-3,"f":146},
{"d":"2024-03-06","t":164,"s":-4,"r":6,"f":166},
{"d":"2024-03-07","t":162,"s":-10,"r":-5,"f":147},
{"d":"2024-03-08","t":160,"s":29,"r":79,"f":268},
{"d":"2024-03-09","t":158,"s":2,"r":8,"f":168},
{"d":"2024-03-10","t":156,"s":-7,"r":4,"f":153},
{"d":"2024-03-11","t":154,"s":4,"r":-12,"f":146},
{"d":"2024-03-12","t":152,"s":-14,"r":3,"f":141},
{"d":"2024-03-13","t":152,"s":-4,"r":-5,"f":143},
{"d":"2024-03-14","t":153,"s":-8,"r":6,"f":151},
{"d":"2024-03-15","t":153,"s":16,"r":-3,"f":166},
{"d":"2024-03-16","t":154,"s":2,"r":4,"f":160},
{"d":"2024-03-17","t":154,"s":-9,"r":-5,"f":140},
{"d":"2024-03-18","t":155,"s":4,"r":3,"f":162},
{"d":"2024-03-19","t":155,"s":-18,"r":-4,"f":133},
{"d":"2024-03-20","t":156,"s":-4,"r":6,"f":158},
{"d":"2024-03-21","t":156,"s":-11,"r":-2,"f":143},
{"d":"2024-03-22","t":157,"s":18,"r":5,"f":180},
{"d":"2024-03-23","t":156,"s":2,"r":15,"f":173},
{"d":"2024-03-24","t":155,"s":-13,"r":4,"f":146},
{"d":"2024-03-25","t":154,"s":-22,"r":-5,"f":127},
{"d":"2024-03-26","t":154,"s":-18,"r":3,"f":139},
{"d":"2024-03-27","t":153,"s":-4,"r":-3,"f":146},
{"d":"2024-03-28","t":152,"s":12,"r":-15,"f":149},
{"d":"2024-03-29","t":151,"s":27,"r":-4,"f":174},
{"d":"2024-03-30","t":150,"s":5,"r":5,"f":160},
{"d":"2024-03-31","t":149,"s":-14,"r":-3,"f":132},
{"d":"2024-04-01","t":148,"s":-23,"r":6,"f":131},
{"d":"2024-04-02","t":150,"s":-18,"r":-4,"f":128},
{"d":"2024-04-03","t":151,"s":-5,"r":-18,"f":128},
{"d":"2024-04-04","t":153,"s":14,"r":4,"f":171},
{"d":"2024-04-05","t":154,"s":30,"r":-2,"f":182},
{"d":"2024-04-06","t":156,"s":6,"r":5,"f":167},
{"d":"2024-04-07","t":157,"s":-15,"r":4,"f":146},
{"d":"2024-04-08","t":156,"s":-25,"r":-5,"f":126},
{"d":"2024-04-09","t":156,"s":-20,"r":3,"f":139},
{"d":"2024-04-10","t":155,"s":-5,"r":-4,"f":146},
{"d":"2024-04-11","t":154,"s":14,"r":-14,"f":154},
{"d":"2024-04-12","t":154,"s":31,"r":5,"f":190},
{"d":"2024-04-13","t":153,"s":6,"r":-3,"f":156},
{"d":"2024-04-14","t":155,"s":-16,"r":5,"f":144},
{"d":"2024-04-15","t":157,"s":-26,"r":-4,"f":127},
{"d":"2024-04-16","t":158,"s":-21,"r":6,"f":143},
{"d":"2024-04-17","t":160,"s":-5,"r":-3,"f":152},
{"d":"2024-04-18","t":162,"s":14,"r":4,"f":180},
{"d":"2024-04-19","t":163,"s":31,"r":-5,"f":189},
{"d":"2024-04-20","t":163,"s":6,"r":15,"f":184},
{"d":"2024-04-21","t":163,"s":-16,"r":-4,"f":143},
{"d":"2024-04-22","t":163,"s":-26,"r":5,"f":142},
{"d":"2024-04-23","t":162,"s":-21,"r":-3,"f":138},
{"d":"2024-04-24","t":162,"s":-5,"r":6,"f":163},
{"d":"2024-04-25","t":162,"s":15,"r":-5,"f":172},
{"d":"2024-04-26","t":163,"s":34,"r":-15,"f":182},
{"d":"2024-04-27","t":163,"s":7,"r":-2,"f":168},
{"d":"2024-04-28","t":164,"s":-17,"r":3,"f":150},
{"d":"2024-04-29","t":164,"s":-28,"r":-6,"f":130},
{"d":"2024-04-30","t":165,"s":-22,"r":4,"f":147},
{"d":"2024-05-01","t":165,"s":-6,"r":-3,"f":156},
{"d":"2024-05-02","t":163,"s":16,"r":15,"f":194},
{"d":"2024-05-03","t":160,"s":35,"r":-4,"f":191},
{"d":"2024-05-04","t":158,"s":7,"r":6,"f":171},
{"d":"2024-05-05","t":157,"s":-22,"r":-3,"f":132},
{"d":"2024-05-06","t":156,"s":10,"r":4,"f":170},
{"d":"2024-05-07","t":155,"s":-12,"r":-5,"f":138},
{"d":"2024-05-08","t":156,"s":-28,"r":6,"f":134},
{"d":"2024-05-09","t":158,"s":-5,"r":87,"f":240},
{"d":"2024-05-10","t":159,"s":41,"r":5,"f":205},
{"d":"2024-05-11","t":160,"s":-8,"r":-50,"f":102},
{"d":"2024-05-12","t":162,"s":-24,"r":6,"f":144},
{"d":"2024-05-13","t":163,"s":10,"r":-3,"f":170},
{"d":"2024-05-14","t":164,"s":-12,"r":5,"f":157},
{"d":"2024-05-15","t":166,"s":-30,"r":-22,"f":114},
{"d":"2024-05-16","t":165,"s":-5,"r":4,"f":164},
{"d":"2024-05-17","t":163,"s":49,"r":-6,"f":206},
{"d":"2024-05-18","t":161,"s":-8,"r":3,"f":156},
{"d":"2024-05-19","t":159,"s":-24,"r":-4,"f":131},
{"d":"2024-05-20","t":157,"s":10,"r":5,"f":172},
{"d":"2024-05-21","t":155,"s":-12,"r":-3,"f":140},
{"d":"2024-05-22","t":153,"s":-30,"r":6,"f":129},
{"d":"2024-05-23","t":152,"s":-5,"r":-5,"f":142},
{"d":"2024-05-24","t":150,"s":52,"r":3,"f":205},
{"d":"2024-05-25","t":148,"s":-8,"r":-2,"f":138},
{"d":"2024-05-26","t":148,"s":-20,"r":5,"f":133},
{"d":"2024-05-27","t":148,"s":10,"r":-4,"f":154},
{"d":"2024-05-28","t":148,"s":-12,"r":-15,"f":121},
{"d":"2024-05-29","t":148,"s":-25,"r":-3,"f":120},
{"d":"2024-05-30","t":148,"s":-5,"r":4,"f":147},
{"d":"2024-05-31","t":148,"s":49,"r":-5,"f":192},
{"d":"2024-06-01","t":148,"s":-8,"r":3,"f":143},
{"d":"2024-06-02","t":148,"s":-18,"r":-3,"f":127},
{"d":"2024-06-03","t":147,"s":10,"r":6,"f":163},
{"d":"2024-06-04","t":147,"s":-12,"r":-4,"f":131},
{"d":"2024-06-05","t":148,"s":-22,"r":5,"f":131},
{"d":"2024-06-06","t":148,"s":-5,"r":-2,"f":141},
{"d":"2024-06-07","t":149,"s":47,"r":4,"f":200},
{"d":"2024-06-08","t":150,"s":-8,"r":-34,"f":108},
{"d":"2024-06-09","t":151,"s":-18,"r":5,"f":138},
{"d":"2024-06-10","t":151,"s":10,"r":-3,"f":158},
{"d":"2024-06-11","t":152,"s":-12,"r":4,"f":144},
{"d":"2024-06-12","t":151,"s":-22,"r":-6,"f":123},
{"d":"2024-06-13","t":151,"s":-5,"r":3,"f":149},
{"d":"2024-06-14","t":150,"s":44,"r":6,"f":200},
{"d":"2024-06-15","t":149,"s":-8,"r":-4,"f":137},
{"d":"2024-06-16","t":149,"s":-18,"r":-5,"f":126},
{"d":"2024-06-17","t":148,"s":10,"r":15,"f":173},
{"d":"2024-06-18","t":147,"s":-12,"r":-3,"f":132},
{"d":"2024-06-19","t":148,"s":-22,"r":5,"f":131},
{"d":"2024-06-20","t":149,"s":-5,"r":-4,"f":140},
{"d":"2024-06-21","t":150,"s":44,"r":6,"f":200},
{"d":"2024-06-22","t":151,"s":-8,"r":-2,"f":141},
{"d":"2024-06-23","t":152,"s":-20,"r":4,"f":136},
{"d":"2024-06-24","t":153,"s":10,"r":-5,"f":158},
{"d":"2024-06-25","t":154,"s":-12,"r":6,"f":148},
{"d":"2024-06-26","t":152,"s":-25,"r":18,"f":145},
{"d":"2024-06-27","t":150,"s":-5,"r":-3,"f":142},
{"d":"2024-06-28","t":149,"s":43,"r":5,"f":197},
{"d":"2024-06-29","t":147,"s":-8,"r":-4,"f":135},
{"d":"2024-06-30","t":145,"s":-21,"r":3,"f":127},
{"d":"2024-07-01","t":143,"s":-3,"r":-4,"f":136},
{"d":"2024-07-02","t":141,"s":-18,"r":5,"f":128},
{"d":"2024-07-03","t":139,"s":-30,"r":-3,"f":106},
{"d":"2024-07-04","t":138,"s":0,"r":6,"f":144},
{"d":"2024-07-05","t":140,"s":39,"r":-5,"f":174},
{"d":"2024-07-06","t":142,"s":-5,"r":4,"f":141},
{"d":"2024-07-07","t":143,"s":-18,"r":-3,"f":122},
{"d":"2024-07-08","t":145,"s":-30,"r":5,"f":120},
{"d":"2024-07-09","t":147,"s":-24,"r":-4,"f":119},
{"d":"2024-07-10","t":149,"s":-6,"r":6,"f":149},
{"d":"2024-07-11","t":150,"s":15,"r":-2,"f":163},
{"d":"2024-07-12","t":152,"s":34,"r":47,"f":233},
{"d":"2024-07-13","t":154,"s":7,"r":4,"f":165},
{"d":"2024-07-14","t":155,"s":-17,"r":-5,"f":133},
{"d":"2024-07-15","t":156,"s":-28,"r":4,"f":132},
{"d":"2024-07-16","t":156,"s":-22,"r":-39,"f":95},
{"d":"2024-07-17","t":157,"s":-6,"r":5,"f":156},
{"d":"2024-07-18","t":158,"s":13,"r":-3,"f":168},
{"d":"2024-07-19","t":159,"s":29,"r":6,"f":194},
{"d":"2024-07-20","t":160,"s":6,"r":-4,"f":162},
{"d":"2024-07-21","t":160,"s":-16,"r":5,"f":149},
{"d":"2024-07-22","t":161,"s":-26,"r":-3,"f":132},
{"d":"2024-07-23","t":162,"s":-21,"r":6,"f":147},
{"d":"2024-07-24","t":161,"s":-5,"r":-4,"f":152},
{"d":"2024-07-25","t":160,"s":11,"r":3,"f":174},
{"d":"2024-07-26","t":159,"s":25,"r":-5,"f":179},
{"d":"2024-07-27","t":158,"s":5,"r":20,"f":183},
{"d":"2024-07-28","t":157,"s":-17,"r":-4,"f":136},
{"d":"2024-07-29","t":156,"s":-28,"r":5,"f":133},
{"d":"2024-07-30","t":154,"s":-22,"r":-3,"f":129},
{"d":"2024-07-31","t":155,"s":-6,"r":6,"f":155},
{"d":"2024-08-01","t":155,"s":13,"r":-5,"f":163},
{"d":"2024-08-02","t":155,"s":28,"r":4,"f":187},
{"d":"2024-08-03","t":156,"s":6,"r":48,"f":210},
{"d":"2024-08-04","t":156,"s":-17,"r":5,"f":144},
{"d":"2024-08-05","t":156,"s":-28,"r":-4,"f":124},
{"d":"2024-08-06","t":157,"s":-22,"r":3,"f":138},
{"d":"2024-08-07","t":160,"s":-6,"r":-6,"f":148},
{"d":"2024-08-08","t":163,"s":14,"r":25,"f":202},
{"d":"2024-08-09","t":166,"s":32,"r":-3,"f":195},
{"d":"2024-08-10","t":169,"s":6,"r":6,"f":181},
{"d":"2024-08-11","t":172,"s":-21,"r":-3,"f":148},
{"d":"2024-08-12","t":175,"s":-3,"r":5,"f":177},
{"d":"2024-08-13","t":178,"s":-18,"r":-4,"f":156},
{"d":"2024-08-14","t":181,"s":-30,"r":6,"f":157},
{"d":"2024-08-15","t":184,"s":0,"r":-57,"f":127},
{"d":"2024-08-16","t":181,"s":40,"r":4,"f":225},
{"d":"2024-08-17","t":178,"s":-5,"r":-5,"f":168},
{"d":"2024-08-18","t":176,"s":-22,"r":4,"f":158},
{"d":"2024-08-19","t":174,"s":10,"r":-6,"f":178},
{"d":"2024-08-20","t":173,"s":-12,"r":3,"f":164},
{"d":"2024-08-21","t":171,"s":-28,"r":-4,"f":139},
{"d":"2024-08-22","t":170,"s":-5,"r":5,"f":170},
{"d":"2024-08-23","t":169,"s":51,"r":-20,"f":200},
{"d":"2024-08-24","t":169,"s":-8,"r":6,"f":167},
{"d":"2024-08-25","t":169,"s":-21,"r":-5,"f":143},
{"d":"2024-08-26","t":169,"s":10,"r":4,"f":183},
{"d":"2024-08-27","t":169,"s":-12,"r":-3,"f":154},
{"d":"2024-08-28","t":169,"s":-26,"r":15,"f":158},
{"d":"2024-08-29","t":169,"s":-5,"r":-4,"f":160},
{"d":"2024-08-30","t":169,"s":57,"r":5,"f":231},
{"d":"2024-08-31","t":169,"s":-8,"r":-3,"f":158},
{"d":"2024-09-01","t":172,"s":-20,"r":4,"f":156},
{"d":"2024-09-02","t":174,"s":10,"r":50,"f":234},
{"d":"2024-09-03","t":176,"s":-12,"r":-5,"f":159},
{"d":"2024-09-04","t":177,"s":-25,"r":3,"f":155},
{"d":"2024-09-05","t":179,"s":-5,"r":-6,"f":168},
{"d":"2024-09-06","t":181,"s":55,"r":5,"f":241},
{"d":"2024-09-07","t":182,"s":-8,"r":-3,"f":171},
{"d":"2024-09-08","t":184,"s":-22,"r":5,"f":167},
{"d":"2024-09-09","t":183,"s":10,"r":20,"f":213},
{"d":"2024-09-10","t":182,"s":-12,"r":6,"f":176},
{"d":"2024-09-11","t":181,"s":-27,"r":-3,"f":151},
{"d":"2024-09-12","t":179,"s":-5,"r":4,"f":178},
{"d":"2024-09-13","t":177,"s":55,"r":-5,"f":227},
{"d":"2024-09-14","t":175,"s":-8,"r":-29,"f":138},
{"d":"2024-09-15","t":173,"s":-22,"r":4,"f":155},
{"d":"2024-09-16","t":171,"s":10,"r":-6,"f":175},
{"d":"2024-09-17","t":169,"s":-12,"r":5,"f":162},
{"d":"2024-09-18","t":168,"s":-27,"r":-20,"f":121},
{"d":"2024-09-19","t":171,"s":-5,"r":6,"f":172},
{"d":"2024-09-20","t":175,"s":54,"r":-4,"f":225},
{"d":"2024-09-21","t":179,"s":20,"r":21,"f":220},
{"d":"2024-09-22","t":182,"s":-8,"r":-3,"f":171},
{"d":"2024-09-23","t":186,"s":-18,"r":5,"f":173},
{"d":"2024-09-24","t":189,"s":-22,"r":-4,"f":163},
{"d":"2024-09-25","t":193,"s":-26,"r":3,"f":170},
{"d":"2024-09-26","t":197,"s":-32,"r":0,"f":165}
    ]
  },
  "spacing": 106.5,
  "resolve": {"scale": {"color": "shared"}},
  "vconcat": [
    {
      "width": 1054,
      "height": 132,
      "title": {"text": "Факт"},
      "data": {"name": "dec"},
      "mark": {"type": "line"},
      "encoding": {
        "x": {"field": "d", "type": "temporal", "scale": {"type": "utc", "nice": false},
          "axis": {"labels": false, "values": [{"year":2022,"month":10,"date":1,"utc":true},{"year":2023,"month":1,"date":1,"utc":true},{"year":2023,"month":4,"date":1,"utc":true},{"year":2023,"month":7,"date":1,"utc":true},{"year":2023,"month":10,"date":1,"utc":true},{"year":2024,"month":1,"date":1,"utc":true},{"year":2024,"month":4,"date":1,"utc":true},{"year":2024,"month":7,"date":1,"utc":true}]}},
        "y": {"field": "f", "type": "quantitative", "scale": {"domain": [85, 390], "nice": false, "zero": false},
          "axis": {"values": [100, 200, 300], "labelPadding": 3}},
        "color": {"datum": "trace 0", "type": "nominal",
          "scale": {"domain": ["trace 0", "trace 1", "trace 2", "trace 3"], "range": ["#636efa", "#ef553b", "#00cc96", "#ab63fa"]},
          "legend": {"title": null, "orient": "none", "legendX": 1078, "legendY": 6, "symbolType": "stroke", "symbolSize": 1156, "symbolStrokeWidth": 2.4, "labelFontSize": 15, "labelColor": "#2a3f5f", "labelFont": "Open Sans", "labelOffset": 7, "rowPadding": 0, "clipHeight": 22.7, "padding": 0}}
      }
    },
    {
      "width": 1054,
      "height": 132,
      "title": {"text": "Тренд"},
      "data": {"name": "dec"},
      "mark": {"type": "line"},
      "encoding": {
        "x": {"field": "d", "type": "temporal", "scale": {"type": "utc", "nice": false},
          "axis": {"labels": false, "values": [{"year":2022,"month":10,"date":1,"utc":true},{"year":2023,"month":1,"date":1,"utc":true},{"year":2023,"month":4,"date":1,"utc":true},{"year":2023,"month":7,"date":1,"utc":true},{"year":2023,"month":10,"date":1,"utc":true},{"year":2024,"month":1,"date":1,"utc":true},{"year":2024,"month":4,"date":1,"utc":true},{"year":2024,"month":7,"date":1,"utc":true}]}},
        "y": {"field": "t", "type": "quantitative", "scale": {"domain": [132, 279], "nice": false, "zero": false},
          "axis": {"values": [150, 200, 250], "labelPadding": 3}},
        "color": {"datum": "trace 1", "type": "nominal"}
      }
    },
    {
      "width": 1054,
      "height": 132,
      "title": {"text": "Сезонність"},
      "data": {"name": "dec"},
      "mark": {"type": "line"},
      "encoding": {
        "x": {"field": "d", "type": "temporal", "scale": {"type": "utc", "nice": false},
          "axis": {"labels": false, "values": [{"year":2022,"month":10,"date":1,"utc":true},{"year":2023,"month":1,"date":1,"utc":true},{"year":2023,"month":4,"date":1,"utc":true},{"year":2023,"month":7,"date":1,"utc":true},{"year":2023,"month":10,"date":1,"utc":true},{"year":2024,"month":1,"date":1,"utc":true},{"year":2024,"month":4,"date":1,"utc":true},{"year":2024,"month":7,"date":1,"utc":true}]}},
        "y": {"field": "s", "type": "quantitative", "scale": {"domain": [-50, 74], "nice": false, "zero": false},
          "axis": {"values": [-50, 0, 50], "labelPadding": 3, "gridWidth": {"condition": {"test": "datum.value === 0", "value": 2.4}, "value": 1.2}}},
        "color": {"datum": "trace 2", "type": "nominal"}
      }
    },
    {
      "width": 1054,
      "height": 132,
      "title": {"text": "Залишки"},
      "data": {"name": "dec"},
      "mark": {"type": "line"},
      "encoding": {
        "x": {"field": "d", "type": "temporal", "scale": {"type": "utc", "nice": false},
          "axis": {"labels": true, "format": "%b %Y", "labelPadding": 2, "labelFlush": false, "labelOverlap": false, "values": [{"year":2022,"month":10,"date":1,"utc":true},{"year":2023,"month":1,"date":1,"utc":true},{"year":2023,"month":4,"date":1,"utc":true},{"year":2023,"month":7,"date":1,"utc":true},{"year":2023,"month":10,"date":1,"utc":true},{"year":2024,"month":1,"date":1,"utc":true},{"year":2024,"month":4,"date":1,"utc":true},{"year":2024,"month":7,"date":1,"utc":true}]}},
        "y": {"field": "r", "type": "quantitative", "scale": {"domain": [-143, 141], "nice": false, "zero": false},
          "axis": {"values": [-100, 0, 100], "labelPadding": 3, "gridWidth": {"condition": {"test": "datum.value === 0", "value": 2.4}, "value": 1.2}}},
        "color": {"datum": "trace 3", "type": "nominal"}
      }
    }
  ]
}
